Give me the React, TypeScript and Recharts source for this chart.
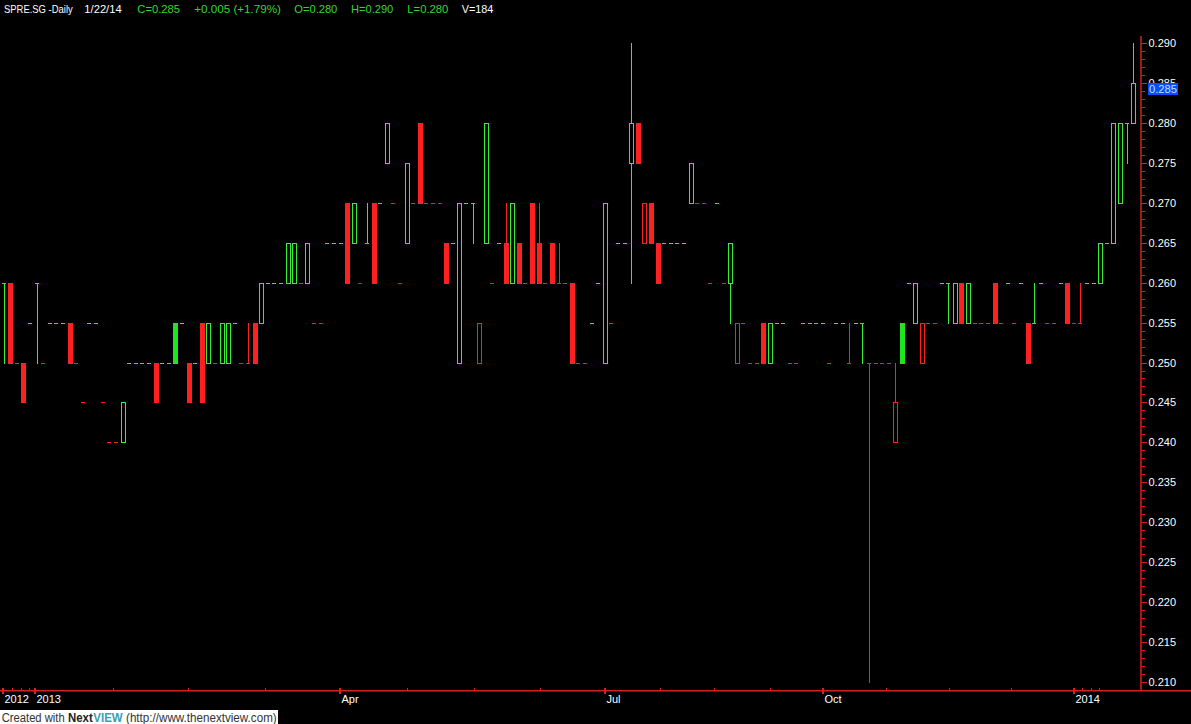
import React from 'react';
import { ComposedChart, Bar, XAxis, YAxis } from 'recharts';

// ---- data (daily candles, oldest first) ----
const openP = [
  0.26, 0.26, 0.25, 0.25, 0.255, 0.26, 0.25, 0.255, 0.255, 0.255,
  0.255, 0.25, 0.245, 0.255, 0.255, 0.245, 0.24, 0.24, 0.24, 0.25,
  0.25, 0.25, 0.25, 0.25, 0.25, 0.25, 0.255, 0.255, 0.25, 0.25,
  0.255, 0.25, 0.25, 0.25, 0.25, 0.255, 0.25, 0.25, 0.255, 0.255,
  0.26, 0.26, 0.26, 0.26, 0.26, 0.26, 0.26, 0.255, 0.255, 0.265,
  0.265, 0.265, 0.27, 0.265, 0.26, 0.265, 0.27, 0.27, 0.275, 0.27,
  0.26, 0.265, 0.27, 0.28, 0.27, 0.27, 0.27, 0.265, 0.265, 0.25,
  0.27, 0.27, 0.25, 0.265, 0.26, 0.265, 0.265, 0.26, 0.265, 0.26,
  0.27, 0.265, 0.26, 0.265, 0.26, 0.26, 0.26, 0.25, 0.25, 0.255,
  0.26, 0.25, 0.255, 0.265, 0.265, 0.275, 0.28, 0.265, 0.27, 0.265,
  0.265, 0.265, 0.265, 0.265, 0.27, 0.27, 0.27, 0.26, 0.27, 0.26,
  0.26, 0.25, 0.255, 0.25, 0.25, 0.255, 0.25, 0.255, 0.255, 0.25,
  0.25, 0.255, 0.255, 0.255, 0.255, 0.25, 0.255, 0.255, 0.25, 0.255,
  0.255, 0.25, 0.25, 0.25, 0.25, 0.24, 0.255, 0.26, 0.255, 0.25,
  0.255, 0.255, 0.26, 0.26, 0.255, 0.26, 0.255, 0.255, 0.255, 0.255,
  0.26, 0.255, 0.26, 0.255, 0.26, 0.255, 0.255, 0.26, 0.255, 0.255,
  0.26, 0.26, 0.255, 0.255, 0.26, 0.26, 0.26, 0.265, 0.265, 0.27,
  0.28, 0.28,
];
const highP = [
  0.26, 0.26, 0.25, 0.25, 0.255, 0.26, 0.25, 0.255, 0.255, 0.255,
  0.255, 0.25, 0.245, 0.255, 0.255, 0.245, 0.24, 0.24, 0.245, 0.25,
  0.25, 0.25, 0.25, 0.25, 0.25, 0.25, 0.255, 0.255, 0.25, 0.25,
  0.255, 0.255, 0.25, 0.255, 0.255, 0.255, 0.25, 0.255, 0.255, 0.26,
  0.26, 0.26, 0.26, 0.265, 0.265, 0.26, 0.265, 0.255, 0.255, 0.265,
  0.265, 0.265, 0.27, 0.27, 0.26, 0.27, 0.27, 0.27, 0.28, 0.27,
  0.26, 0.275, 0.27, 0.28, 0.27, 0.27, 0.27, 0.265, 0.265, 0.27,
  0.27, 0.27, 0.255, 0.28, 0.26, 0.265, 0.27, 0.27, 0.265, 0.26,
  0.27, 0.27, 0.26, 0.265, 0.265, 0.26, 0.26, 0.25, 0.25, 0.255,
  0.26, 0.27, 0.255, 0.265, 0.265, 0.29, 0.28, 0.27, 0.27, 0.265,
  0.265, 0.265, 0.265, 0.265, 0.275, 0.27, 0.27, 0.26, 0.27, 0.26,
  0.265, 0.255, 0.255, 0.25, 0.25, 0.255, 0.255, 0.255, 0.255, 0.25,
  0.25, 0.255, 0.255, 0.255, 0.255, 0.25, 0.255, 0.255, 0.255, 0.255,
  0.255, 0.25, 0.25, 0.25, 0.25, 0.25, 0.255, 0.26, 0.26, 0.255,
  0.255, 0.255, 0.26, 0.26, 0.26, 0.26, 0.26, 0.255, 0.255, 0.255,
  0.26, 0.255, 0.26, 0.255, 0.26, 0.255, 0.26, 0.26, 0.255, 0.255,
  0.26, 0.26, 0.255, 0.26, 0.26, 0.26, 0.265, 0.265, 0.28, 0.28,
  0.28, 0.29,
];
const lowP = [
  0.25, 0.25, 0.25, 0.245, 0.255, 0.25, 0.25, 0.255, 0.255, 0.255,
  0.25, 0.25, 0.245, 0.255, 0.255, 0.245, 0.24, 0.24, 0.24, 0.25,
  0.25, 0.25, 0.25, 0.245, 0.25, 0.25, 0.25, 0.255, 0.245, 0.25,
  0.245, 0.25, 0.25, 0.25, 0.25, 0.255, 0.25, 0.25, 0.25, 0.255,
  0.26, 0.26, 0.26, 0.26, 0.26, 0.26, 0.26, 0.255, 0.255, 0.265,
  0.265, 0.265, 0.26, 0.265, 0.26, 0.265, 0.26, 0.27, 0.275, 0.27,
  0.26, 0.265, 0.27, 0.27, 0.27, 0.27, 0.27, 0.26, 0.265, 0.25,
  0.27, 0.265, 0.25, 0.265, 0.26, 0.265, 0.26, 0.26, 0.26, 0.26,
  0.26, 0.26, 0.26, 0.26, 0.26, 0.26, 0.25, 0.25, 0.25, 0.255,
  0.26, 0.25, 0.255, 0.265, 0.265, 0.26, 0.275, 0.265, 0.265, 0.26,
  0.265, 0.265, 0.265, 0.265, 0.27, 0.27, 0.27, 0.26, 0.27, 0.26,
  0.255, 0.25, 0.255, 0.25, 0.25, 0.25, 0.25, 0.255, 0.255, 0.25,
  0.25, 0.255, 0.255, 0.255, 0.255, 0.25, 0.255, 0.255, 0.25, 0.255,
  0.25, 0.21, 0.25, 0.25, 0.25, 0.24, 0.25, 0.26, 0.255, 0.25,
  0.255, 0.255, 0.26, 0.255, 0.255, 0.255, 0.255, 0.255, 0.255, 0.255,
  0.255, 0.255, 0.26, 0.255, 0.26, 0.25, 0.255, 0.26, 0.255, 0.255,
  0.26, 0.255, 0.255, 0.255, 0.26, 0.26, 0.26, 0.265, 0.265, 0.27,
  0.275, 0.28,
];
const closeP = [
  0.26, 0.25, 0.25, 0.245, 0.255, 0.26, 0.25, 0.255, 0.255, 0.255,
  0.25, 0.25, 0.245, 0.255, 0.255, 0.245, 0.24, 0.24, 0.245, 0.25,
  0.25, 0.25, 0.25, 0.245, 0.25, 0.25, 0.25, 0.255, 0.245, 0.25,
  0.245, 0.255, 0.25, 0.255, 0.255, 0.255, 0.25, 0.25, 0.25, 0.26,
  0.26, 0.26, 0.26, 0.265, 0.265, 0.26, 0.265, 0.255, 0.255, 0.265,
  0.265, 0.265, 0.26, 0.27, 0.26, 0.265, 0.26, 0.27, 0.28, 0.27,
  0.26, 0.275, 0.27, 0.27, 0.27, 0.27, 0.27, 0.26, 0.265, 0.27,
  0.27, 0.27, 0.255, 0.28, 0.26, 0.265, 0.26, 0.27, 0.26, 0.26,
  0.26, 0.26, 0.26, 0.26, 0.26, 0.26, 0.25, 0.25, 0.25, 0.255,
  0.26, 0.27, 0.255, 0.265, 0.265, 0.28, 0.275, 0.27, 0.265, 0.26,
  0.265, 0.265, 0.265, 0.265, 0.275, 0.27, 0.27, 0.26, 0.27, 0.26,
  0.265, 0.255, 0.255, 0.25, 0.25, 0.25, 0.255, 0.255, 0.255, 0.25,
  0.25, 0.255, 0.255, 0.255, 0.255, 0.25, 0.255, 0.255, 0.25, 0.255,
  0.255, 0.25, 0.25, 0.25, 0.25, 0.245, 0.25, 0.26, 0.26, 0.255,
  0.255, 0.255, 0.26, 0.26, 0.26, 0.255, 0.26, 0.255, 0.255, 0.255,
  0.255, 0.255, 0.26, 0.255, 0.26, 0.25, 0.255, 0.26, 0.255, 0.255,
  0.26, 0.255, 0.255, 0.255, 0.26, 0.26, 0.265, 0.265, 0.28, 0.28,
  0.28, 0.285,
];

// x-axis ticks, in candle-index units
const majorTicks = [-0.18, 4.71, 50.88, 91.0, 124.0, 161.94];
const majorLabels = ['2012', '2013', 'Apr', 'Jul', 'Oct', '2014'];
const minorTicks = [1.18, 2.54, 3.8, 16.47, 27.87, 39.52, 61.02, 71.16, 81.15, 99.32, 107.5, 116.0, 133.5, 143.07, 152.45, 163.2, 164.56, 165.78];

// y-axis labelled prices
const yLabels = [0.21, 0.215, 0.22, 0.225, 0.23, 0.235, 0.24, 0.245, 0.25, 0.255, 0.26, 0.265, 0.27, 0.275, 0.28, 0.285, 0.29];
const yMinorTicks: number[] = [];
for (let m = 210; m <= 290; m++) if (m % 5 !== 0) yMinorTicks.push(m / 1000);
const yTicks = [...yLabels, ...yMinorTicks].sort((a, b) => a - b);

const lastClose = 0.285;

const RED = '#ff2121';
const GREEN = '#33f033';
const GREEN_FILL = '#1ee61e';
const AXIS_RED = '#d42222';
const FONT = "'Liberation Sans', Arial, sans-serif";
const PAD = 0.0001;

const rows = (() => {
  let prevUp = true;
  return closeP.map((c, i) => {
    let up = prevUp;
    if (i > 0) {
      if (c > closeP[i - 1]) up = true;
      else if (c < closeP[i - 1]) up = false;
    }
    prevUp = up;
    return {
      k: i,
      open: openP[i],
      high: highP[i],
      low: lowP[i],
      close: c,
      up,
      rng: [lowP[i] - PAD, highP[i] + PAD],
    };
  });
})();

function Candle(props: any) {
  const { x, y, width, height, payload } = props;
  if (x == null || y == null || !payload) return null;
  const top = Math.min(y, y + height);
  const bot = Math.max(y, y + height);
  const hi = payload.high + PAD;
  const lo = payload.low - PAD;
  const py = (p: number) => top + ((hi - p) / (hi - lo)) * (bot - top);
  const cx = Math.floor(x + width / 2);
  const o = payload.open;
  const c = payload.close;
  const yH = Math.round(py(payload.high));
  const yL = Math.round(py(payload.low));
  const els: any[] = [];
  if (o === c) {
    const col = payload.up ? GREEN : RED;
    const yc = Math.round(py(c));
    if (yL > yH) els.push(<rect key="w" x={cx} y={yH} width={1} height={yL - yH + 1} fill={col} />);
    els.push(<rect key="d" x={cx - 2} y={yc} width={4} height={1} fill={col} />);
  } else {
    const bTop = Math.round(py(Math.max(o, c)));
    const bBot = Math.round(py(Math.min(o, c)));
    const hollow = c > o;
    const col = payload.up ? (hollow ? GREEN : GREEN_FILL) : RED;
    if (bTop > yH) els.push(<rect key="wt" x={cx} y={yH} width={1} height={bTop - yH} fill={col} />);
    if (yL > bBot) els.push(<rect key="wb" x={cx} y={bBot + 1} width={1} height={yL - bBot} fill={col} />);
    if (hollow) {
      els.push(
        <rect key="b" x={cx - 2 + 0.5} y={bTop + 0.5} width={4} height={bBot - bTop} fill="none" stroke={col} strokeWidth={1} />
      );
    } else {
      els.push(<rect key="b" x={cx - 2} y={bTop} width={5} height={bBot - bTop + 1} fill={col} />);
    }
  }
  return <g shapeRendering="crispEdges">{els}</g>;
}

function XTick(props: any) {
  const { x, y, payload } = props;
  const v = payload.value;
  const mi = majorTicks.indexOf(v);
  const px = Math.round(x);
  if (mi >= 0) {
    return (
      <g shapeRendering="crispEdges">
        <rect x={px - 1} y={y - 2} width={2} height={6} fill={AXIS_RED} />
        <text x={px + 1.5} y={y + 13} fill="#ffffff" fontSize={11} fontFamily={FONT}>
          {majorLabels[mi]}
        </text>
      </g>
    );
  }
  return <rect x={px} y={y - 2} width={1} height={2} fill={AXIS_RED} shapeRendering="crispEdges" />;
}

function YTick(props: any) {
  const { x, y, payload } = props;
  const v = payload.value;
  const isMajor = Math.round(v * 1000) % 5 === 0;
  const py = Math.round(y);
  if (isMajor) {
    return (
      <g>
        <rect x={x + 1} y={py} width={5} height={1} fill={AXIS_RED} shapeRendering="crispEdges" />
        <text x={x + 7.5} y={py + 4} fill="#ffffff" fontSize={11} fontFamily={FONT}>
          {v.toFixed(3)}
        </text>
      </g>
    );
  }
  return <rect x={x + 1} y={py} width={3} height={1} fill={AXIS_RED} shapeRendering="crispEdges" />;
}

export default function App() {
  const xTicks = [...majorTicks, ...minorTicks].sort((a, b) => a - b);
  const W = 1191;
  const H = 724;
  return (
    <div style={{ position: 'absolute', left: 0, top: 0, width: W, height: H, background: '#000', overflow: 'hidden' }}>
      <ComposedChart width={W} height={H} data={rows} margin={{ top: 36, right: 0, bottom: 0, left: 0 }}>
        <XAxis
          dataKey="k"
          type="number"
          domain={[-0.59, 172.13]}
          allowDataOverflow
          ticks={xTicks}
          interval={0}
          tickSize={0}
          tickMargin={0}
          axisLine={false}
          tickLine={false}
          height={34}
          tick={XTick}
        />
        <YAxis
          orientation="right"
          domain={[0.209, 0.29088]}
          allowDataOverflow
          ticks={yTicks}
          interval={0}
          width={50}
          tickSize={0}
          tickMargin={0}
          tickLine={false}
          axisLine={{ stroke: AXIS_RED, strokeWidth: 1.5 }}
          tick={YTick}
        />
        <Bar dataKey="rng" barSize={5} isAnimationActive={false} shape={Candle} />
      </ComposedChart>
      <svg width={W} height={H} style={{ position: 'absolute', left: 0, top: 0, pointerEvents: 'none' }}>
        <rect x={0} y={690} width={W} height={1.5} fill={AXIS_RED} />
        <g fontFamily={FONT} fontSize={11}>
          <text x={4} y={13} fill="#ffffff" textLength={68.7} lengthAdjust="spacingAndGlyphs">SPRE.SG -Daily</text>
          <text x={84.3} y={13} fill="#ffffff" textLength={37.4} lengthAdjust="spacingAndGlyphs">1/22/14</text>
          <text x={137.3} y={13} fill="#33d633" textLength={42.7} lengthAdjust="spacingAndGlyphs">{`C=${lastClose.toFixed(3)}`}</text>
          <text x={194.3} y={13} fill="#33d633" textLength={86.7} lengthAdjust="spacingAndGlyphs">+0.005 (+1.79%)</text>
          <text x={294.3} y={13} fill="#33d633" textLength={43} lengthAdjust="spacingAndGlyphs">O=0.280</text>
          <text x={351} y={13} fill="#33d633" textLength={42.3} lengthAdjust="spacingAndGlyphs">H=0.290</text>
          <text x={407.3} y={13} fill="#33d633" textLength={41} lengthAdjust="spacingAndGlyphs">L=0.280</text>
          <text x={461.7} y={13} fill="#ffffff" textLength={31.6} lengthAdjust="spacingAndGlyphs">V=184</text>
        </g>
        <rect x={1148} y={83} width={30} height={12} fill="#0a4cff" />
        <text x={1149} y={93} fill="#b8e2ff" fontSize={11} fontFamily={FONT} textLength={28} lengthAdjust="spacingAndGlyphs">
          {lastClose.toFixed(3)}
        </text>
        <rect x={0} y={710} width={278} height={14} fill="#ffffff" />
        <g fontFamily={FONT} fontSize={12}>
          <text x={1.7} y={721.5} fill="#333333" textLength={63} lengthAdjust="spacingAndGlyphs">Created with</text>
          <text x={68} y={721.5} fill="#222222" fontWeight="bold" textLength={24.7} lengthAdjust="spacingAndGlyphs">Next</text>
          <text x={93.3} y={721.5} fill="#3a9fb0" fontWeight="bold" textLength={29.4} lengthAdjust="spacingAndGlyphs">VIEW</text>
          <text x={126} y={721.5} fill="#333333" textLength={150.7} lengthAdjust="spacingAndGlyphs">(http://www.thenextview.com)</text>
        </g>
      </svg>
    </div>
  );
}
